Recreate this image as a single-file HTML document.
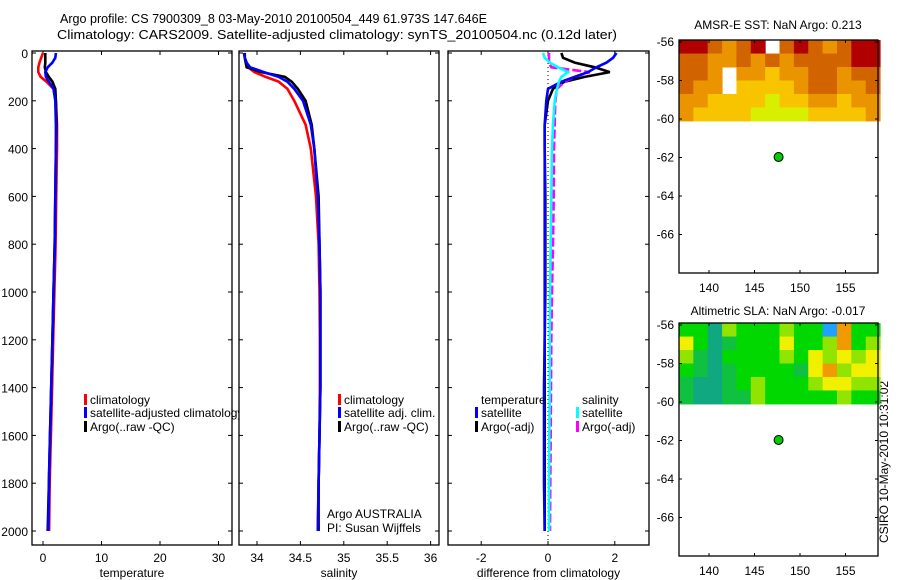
<!DOCTYPE html>
<html><head><meta charset="utf-8"><style>
body{margin:0;background:#fff;}
svg{display:block;font-family:"Liberation Sans",sans-serif;}
text{fill:#000;}
</style></head><body>
<svg id="fig" width="900" height="580" xmlns="http://www.w3.org/2000/svg">
<defs>
<clipPath id="c1"><rect x="32" y="51" width="207" height="494"/></clipPath>
<clipPath id="c2"><rect x="239" y="51" width="200" height="494"/></clipPath>
<clipPath id="c3"><rect x="448" y="51" width="201" height="494"/></clipPath>
</defs>
<text x="60" y="23" font-size="13" textLength="427" lengthAdjust="spacingAndGlyphs">Argo profile: CS 7900309_8 03-May-2010 20100504_449 61.973S 147.646E</text>
<text x="57" y="39" font-size="13" textLength="560" lengthAdjust="spacingAndGlyphs">Climatology: CARS2009. Satellite-adjusted climatology: synTS_20100504.nc (0.12d later)</text>
<text x="778" y="29" font-size="12" text-anchor="middle">AMSR-E SST: NaN Argo: 0.213</text>
<text x="778" y="315" font-size="12" text-anchor="middle">Altimetric SLA: NaN Argo: -0.017</text>
<text transform="translate(888,462) rotate(-90)" font-size="12" text-anchor="middle">CSIRO 10-May-2010 10:31:02</text>
<g id="g1"></g>
<g id="g2"></g>
<g id="g3"></g>
<g id="g4"></g>
<g id="g5"></g>
</svg>
<script>
const depths=[0,20,40,60,80,100,120,150,200,300,400,600,800,1000,1200,1400,1600,1800,2000];
const tClim=[0,-0.3,-0.6,-0.8,-0.8,-0.4,0.6,1.8,2.2,2.4,2.4,2.25,2.15,1.95,1.75,1.55,1.35,1.15,1.05];
const tSat=[2.2,2.1,1.6,0.8,0.4,0.5,1.0,1.8,2.1,2.2,2.2,2.1,2.0,1.8,1.6,1.4,1.2,1.0,0.9];
const tArgo=[0.4,0.4,0.4,0.3,0.5,1.0,1.6,2.1,2.2,2.3,2.2,2.1,2.0,1.8,1.6,1.4,1.2,1.0,0.8];
const sClim=[33.85,33.86,33.88,33.9,33.97,34.1,34.25,34.35,34.43,34.56,34.62,34.68,34.71,34.72,34.725,34.725,34.72,34.71,34.70];
const sSat=[33.85,33.86,33.88,33.92,34.08,34.25,34.35,34.43,34.53,34.62,34.66,34.7,34.72,34.73,34.73,34.73,34.72,34.71,34.70];
const sArgo=[33.86,33.86,33.87,33.88,34.05,34.32,34.4,34.47,34.56,34.63,34.66,34.71,34.72,34.73,34.73,34.73,34.72,34.71,34.71];
const dTSat=[2.05,1.95,1.75,1.45,1.2,0.8,0.4,0.0,-0.05,-0.1,-0.1,-0.1,-0.1,-0.1,-0.1,-0.12,-0.12,-0.12,-0.1];
const dTArgo=[0.4,0.45,0.8,1.4,1.85,1.1,0.5,0.15,0.0,-0.1,-0.1,-0.08,-0.08,-0.08,-0.1,-0.1,-0.1,-0.1,-0.1];
const dSSat=[-0.15,-0.1,0.05,0.3,0.6,0.4,0.33,0.27,0.2,0.15,0.12,0.1,0.08,0.06,0.05,0.05,0.04,0.03,0.03];
const dSArgo=[0.03,0.03,0.03,0.1,1.25,0.8,0.5,0.27,0.22,0.2,0.18,0.17,0.15,0.12,0.1,0.09,0.08,0.07,0.06];
const depthTicks=[0,200,400,600,800,1000,1200,1400,1600,1800,2000];
const tTicks=[0,10,20,30];
const sTicks=[34,34.5,35,35.5,36];
const dTicks=[-2,0,2];
const latTicks=[-56,-58,-60,-62,-64,-66];
const lonTicks=[140,145,150,155];
const sstGrid=[
[0,0,1,2,1,0,-1,1,0,1,2,1,0,0],
[1,1,2,2,1,2,1,2,1,1,1,1,0,0],
[1,1,2,-1,2,2,3,2,2,1,1,2,1,1],
[1,2,2,-1,3,3,3,3,2,1,1,2,2,1],
[2,2,3,3,3,3,4,3,3,2,2,3,2,2],
[2,3,3,3,3,4,4,4,4,3,3,3,3,2]];
const slaGrid=[
[2,2,0,3,2,2,2,3,2,2,6,5,2,2],
[4,2,0,1,2,2,2,4,2,2,3,5,2,3],
[3,1,0,2,2,2,2,3,2,4,3,4,3,4],
[2,1,0,1,2,2,2,2,1,4,5,3,4,4],
[1,0,0,1,2,3,2,2,2,3,4,4,3,3],
[1,0,0,1,1,3,2,2,2,2,2,3,2,2]];
const argoLon=147.646, argoLat=-61.973;
const sstColors=['#b00000','#d26400','#ea9400','#f8c400','#d8f000'];
const slaColors=['#10a880','#10c040','#00d800','#90e400','#f0f000','#f09a00','#20a0ff'];

const NS='http://www.w3.org/2000/svg';
function mk(tag,at,parent){const e=document.createElementNS(NS,tag);for(const k in at)e.setAttribute(k,at[k]);parent.appendChild(e);return e;}
const yD=d=>53+d*0.239;
const xT=v=>43+v*5.85;
const xS=v=>257+(v-34)*86.8;
const xD=v=>548+v*33.4;
const mx=lon=>709+(lon-140)*9.1;
const my=(lat,off)=>42+off+(-56-lat)*19.25;

function frame(g,x0,x1,y0,y1,xt,xf,yLabels,xlabel){
  const r=mk('rect',{x:x0,y:y0,width:x1-x0,height:y1-y0,fill:'none',stroke:'#000','stroke-width':1.3},g);
  
  
  depthTicks.forEach(d=>{
    const y=yD(d);
    mk('line',{x1:x0,x2:x0+4,y1:y,y2:y,stroke:'#000'},g);
    mk('line',{x1:x1-4,x2:x1,y1:y,y2:y,stroke:'#000'},g);
    if(yLabels){const t=mk('text',{x:x0-4,y:y+5,'font-size':12,'text-anchor':'end'},g);t.textContent=d;
      
      }
  });
  xt.forEach(v=>{
    const x=xf(v);
    mk('line',{x1:x,x2:x,y1:y1,y2:y1-4,stroke:'#000'},g);
    mk('line',{x1:x,x2:x,y1:y0,y2:y0+4,stroke:'#000'},g);
    const t=mk('text',{x:x,y:562,'font-size':12,'text-anchor':'middle'},g);t.textContent=v;
    
    
  });
  const l=mk('text',{x:(x0+x1)/2,y:577,'font-size':12,'text-anchor':'middle'},g);l.textContent=xlabel;
  
  
}
function line(g,vals,xf,color,name,clip,dash){
  const pts=vals.map((v,i)=>xf(v).toFixed(1)+','+yD(depths[i]).toFixed(1)).join(' ');
  const p=mk('polyline',{points:pts,fill:'none',stroke:color,'stroke-width':2.6,'clip-path':'url(#'+clip+')'},g);
  if(dash)p.setAttribute('stroke-dasharray',dash);
  
  
}
function legend(g,x,y,color,label){
  if(color){mk('rect',{x:x-6,y:y-10,width:3,height:11,fill:color},g);}
  const t=mk('text',{x:x,y:y,'font-size':12,'clip-path':'url(#c1)'},g);t.textContent=label;
  
  
  return t;
}
const g1=document.getElementById('g1'),g2=document.getElementById('g2'),g3=document.getElementById('g3');
frame(g1,32,232,51,545,tTicks,xT,true,'temperature');
line(g1,tClim,xT,'#f00','temp-climatology-line','c1');
line(g1,tArgo,xT,'#000','temp-argo-line','c1');
line(g1,tSat,xT,'#00f','temp-satellite-line','c1');
legend(g1,90,404,'#f00','climatology');
legend(g1,90,417,'#00f','satellite-adjusted climatology');
legend(g1,90,431,'#000','Argo(..raw -QC)');

frame(g2,239,439,51,545,sTicks,xS,false,'salinity');
line(g2,sClim,xS,'#f00','sal-climatology-line','c2');
line(g2,sArgo,xS,'#000','sal-argo-line','c2');
line(g2,sSat,xS,'#00f','sal-satellite-line','c2');
[[404,'#f00','climatology'],[417,'#00f','satellite adj. clim.'],[431,'#000','Argo(..raw -QC)']].forEach(a=>{const t=legend(g2,344,a[0],a[1],a[2]);t.removeAttribute('clip-path');});
let t=mk('text',{x:327,y:518,'font-size':12},g2);t.textContent='Argo AUSTRALIA';


t=mk('text',{x:327,y:532,'font-size':12},g2);t.textContent='PI: Susan Wijffels';



frame(g3,448,649,51,545,dTicks,xD,false,'difference from climatology');
mk('line',{x1:xD(0),x2:xD(0),y1:51,y2:545,stroke:'#000','stroke-dasharray':'1,3'},g3);
line(g3,dTArgo,xD,'#000','dtemp-argo-line','c3');
line(g3,dSArgo,xD,'#f0f','dsal-argo-line','c3','9,3');
line(g3,dTSat,xD,'#00f','dtemp-satellite-line','c3');
line(g3,dSSat,xD,'#0ff','dsal-satellite-line','c3');
[[481,404,null,'temperature'],[481,417,'#00f','satellite'],[481,431,'#000','Argo(-adj)'],[582,404,null,'salinity'],[582,417,'#0ff','satellite'],[582,431,'#f0f','Argo(-adj)']].forEach(a=>{const t=legend(g3,a[0],a[1],a[2],a[3]);t.removeAttribute('clip-path');});

function map(g,grid,colors,off){
  const x0=679,x1=878,y0=40+off,y1=273+off;
  const lon0=136.7,dl=(158.8-136.7)/14,la0=-55.9,dla=(60.1-55.9)/6;
  grid.forEach((row,r)=>row.forEach((v,c)=>{
    if(v<0)return;
    const xa=mx(lon0+c*dl),xb=mx(lon0+(c+1)*dl),ya=my(la0-r*dla,off),yb=my(la0-(r+1)*dla,off);
    const cell=mk('rect',{x:xa,y:ya,width:xb-xa+0.5,height:yb-ya+0.5,fill:colors[v]},g);
    
    
  }));
  const fr=mk('rect',{x:x0,y:y0,width:x1-x0,height:y1-y0,fill:'none',stroke:'#000','stroke-width':1.3},g);
  
  
  latTicks.forEach(la=>{const y=my(la,off);
    mk('line',{x1:x0,x2:x0+3,y1:y,y2:y,stroke:'#000'},g);mk('line',{x1:x1-3,x2:x1,y1:y,y2:y,stroke:'#000'},g);
    const t=mk('text',{x:x0-5,y:y+4,'font-size':12,'text-anchor':'end'},g);t.textContent=la;
    
    });
  lonTicks.forEach(lo=>{const x=mx(lo);
    mk('line',{x1:x,x2:x,y1:y1,y2:y1-3,stroke:'#000'},g);mk('line',{x1:x,x2:x,y1:y0,y2:y0+3,stroke:'#000'},g);
    const t=mk('text',{x:x,y:y1+19,'font-size':12,'text-anchor':'middle'},g);t.textContent=lo;
    
    });
  const dot=mk('circle',{cx:mx(argoLon),cy:my(argoLat,off),r:4.5,fill:'#00cc00',stroke:'#000','stroke-width':1},g);
  
  
}
map(document.getElementById('g4'),sstGrid,sstColors,0);
map(document.getElementById('g5'),slaGrid,slaColors,283);
</script>
</body></html>
